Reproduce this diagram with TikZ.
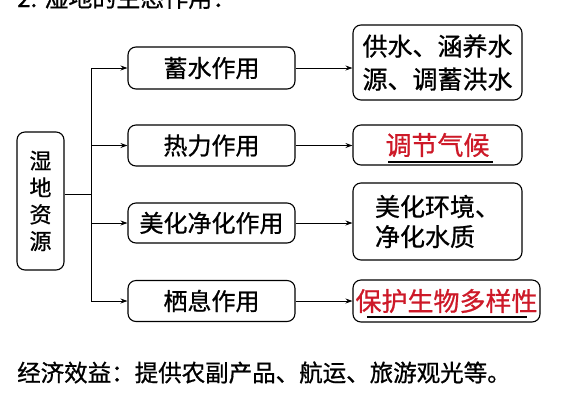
\documentclass[tikz,border=0pt]{standalone}
\usepackage{fontspec}
\setmainfont{Noto Sans CJK SC}[FakeBold=0.8]
\newfontfamily\heavy{Noto Sans CJK SC}[FakeBold=0.8]
\usetikzlibrary{arrows.meta}
\definecolor{hlred}{RGB}{205,25,40}
\begin{document}
\begin{tikzpicture}[x=1pt,y=-1pt,
  box/.style={draw, rounded corners=8pt, line width=1.1pt, inner sep=0pt, align=center},
  arr/.style={-{Stealth[length=7pt,width=5pt]}, line width=0.9pt},
  ln/.style={line width=0.9pt},
  mid/.style={box, minimum width=167pt, font=\heavy\fontsize{24pt}{28pt}\selectfont},
  rt/.style={box, minimum width=169pt, font=\heavy\fontsize{25pt}{33pt}\selectfont},
  rtred/.style={box, font=\heavy\fontsize{26pt}{30pt}\selectfont, text=hlred}]
\useasboundingbox (0,0) rectangle (567,400);
\clip (0,0) rectangle (567,400);

\node[anchor=base west, inner sep=0pt, font=\heavy\fontsize{24pt}{28pt}\selectfont] (title) at (17,7) {2. 湿地的生态作用：};

\node[box, minimum width=47pt, minimum height=138pt, font=\heavy\fontsize{22pt}{26.8pt}\selectfont] (root) at (40.5,201) {湿\\地\\资\\源};

\node[mid, minimum height=42pt] (m1) at (211.5,68) {蓄水作用};
\node[mid, minimum height=41pt] (m2) at (211.5,145.5) {热力作用};
\node[mid, minimum height=40pt] (m3) at (211.5,223) {美化净化作用};
\node[mid, minimum height=41pt] (m4) at (211.5,301) {栖息作用};

\node[rt, minimum height=75pt] (r1) at (437.5,62.5) {供水、涵养水\\源、调蓄洪水};
\node[rtred, minimum width=169pt, minimum height=40pt] (r2) at (437.5,145) {调节气候};
\node[rt, minimum height=77pt, align=left, font=\heavy\fontsize{25pt}{30pt}\selectfont] (r3) at (437.5,221.5) {美化环境、\\净化水质};
\node[rtred, minimum width=187pt, minimum height=42pt] (r4) at (446.5,301) {保护生物多样性};

\coordinate (j) at (91,194);
\draw[ln] (root.east |- j) -- (j);
\draw[ln] (j |- m1.west) -- (j |- m4.west);
\foreach \m in {m1,m2,m3,m4} {\draw[arr] (j |- \m.west) -- (\m.west);}

\draw[arr] (m1.east) -- (m1.east -| r1.west);
\draw[arr] (m2.east) -- (m2.east -| r2.west);
\draw[arr] (m3.east) -- (m3.east -| r3.west);
\draw[arr] (m4.east) -- (m4.east -| r4.west);

\draw[line width=1.4pt] (388,162) -- (493,162);
\draw[line width=1.8pt] (367,317) -- (527,317);

\node[anchor=west, inner sep=0pt, font=\heavy\fontsize{23.5pt}{28pt}\selectfont] (eco) at (17,372.5) {经济效益：提供农副产品、航运、旅游观光等。};
\end{tikzpicture}
\end{document}
